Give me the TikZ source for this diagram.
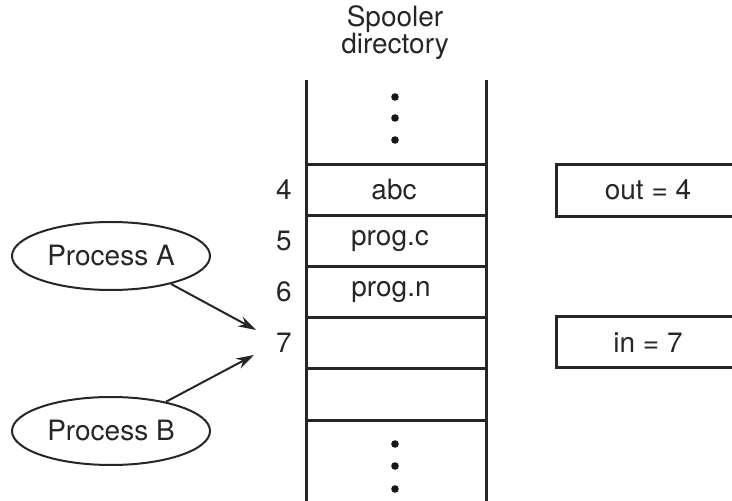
\documentclass[tikz,border=0pt]{standalone}
\usepackage{fontspec}
\setmainfont{TeX Gyre Heros}
\usetikzlibrary{shapes.geometric,arrows.meta}

\begin{document}
\begin{tikzpicture}[x=0.5pt,y=-0.5pt,line width=1.5pt,draw=black!85,
	every node/.style={font=\fontsize{14}{13.5}\selectfont,text=black!85},
	proc/.style={ellipse,draw,line width=1pt,minimum width=99pt,minimum height=34pt,inner sep=0pt},
	ptr/.style={line width=1pt,-{Stealth[length=9pt,width=5.5pt]}}]
					\useasboundingbox (0,0) rectangle (732,501);
					% spooler directory
					\node[align=center] (title) at (395,33) {Spooler\\directory};
					\draw[-] (306,80) -- (306,501);
					\draw[-] (486,80) -- (486,501);
					\draw[-] (306,165) -- (486,165);
					\draw[-] (306,216) -- (486,216);
					\draw[-] (306,267) -- (486,267);
					\draw[-] (306,318) -- (486,318);
					\draw[-] (306,369) -- (486,369);
					\draw[-] (306,420) -- (486,420);
					\fill[black!90] (395,97) circle (1.9pt);
					\fill[black!90] (395,118) circle (1.9pt);
					\fill[black!90] (395,140) circle (1.9pt);
					\fill[black!90] (395,444) circle (1.9pt);
					\fill[black!90] (395,466) circle (1.9pt);
					\fill[black!90] (395,489) circle (1.9pt);
					\node (n4) at (284,190) {4};
					\node (n5) at (284,241) {5};
					\node (n6) at (284,292) {6};
					\node (n7) at (284,343) {7};
					\node (abc) at (394,190) {abc};
					\node (progc) at (390,241) {prog.c};
					\node (progn) at (391,292) {prog.n};
					% out and in
					\draw[-] (732,165) -- (556,165) -- (556,217) -- (732,217);
					\draw[-] (732,317) -- (556,317) -- (556,368) -- (732,368);
					\node (out) at (648,190) {out = 4};
					\node (in) at (648,343) {in = 7};
					% processes
					\node[proc] (procA) at (111,256) {Process A};
					\node[proc] (procB) at (111,431) {Process B};
					\coordinate (tipA) at (256,330);
					\coordinate (tipB) at (254,355);
					\draw[ptr] (procA.-25) -- (tipA);
					\draw[ptr] (procB.28) -- (tipB);
\end{tikzpicture}
\end{document}
